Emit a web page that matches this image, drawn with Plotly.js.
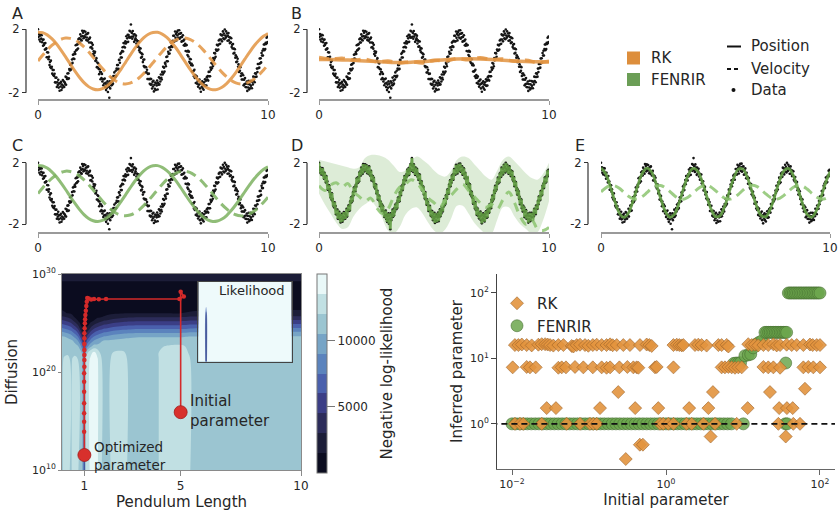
<!DOCTYPE html>
<html>
<head>
<meta charset="utf-8">
<script src="https://cdn.plot.ly/plotly-3.0.1.min.js"></script>
<style>
html,body{margin:0;padding:0;background:#ffffff;}
#chart{width:838px;height:511px;}
</style>
</head>
<body>
<div id="chart"></div>
<script>
// ================= DATA =================
// Observed pendulum position, one sample every 0.02 s, t = 0 ... 10
const observedPosition = [
2.00,1.52,1.70,1.35,1.60,1.23,1.65,1.41,1.63,1.18,1.34,0.96,1.35,1.01,1.12,0.72,1.13,0.74,0.80,0.24,
0.55,0.24,0.54,0.11,0.27,-0.26,-0.07,-0.39,0.02,-0.46,-0.36,-0.80,-0.57,-0.89,-0.57,-0.95,-0.81,-1.35,-1.06,-1.36,
-1.05,-1.64,-1.34,-1.51,-1.19,-1.68,-1.42,-1.88,-1.40,-1.61,-1.32,-1.83,-1.49,-1.69,-1.20,-1.57,-1.28,-1.64,-1.35,-1.44,
-0.99,-1.50,-1.03,-1.14,-0.79,-1.13,-0.77,-1.10,-0.51,-0.60,-0.24,-0.57,-0.20,-0.47,0.09,-0.12,0.39,0.15,0.43,0.13,
0.56,0.44,0.99,0.67,1.03,0.72,1.05,0.79,1.38,1.17,1.44,1.17,1.68,1.35,1.55,1.29,1.91,1.58,1.78,1.44,
1.89,1.56,
1.50,1.85,1.67,1.32,1.48,1.71,1.28,1.76,1.37,1.17,1.42,1.48,0.85,1.17,0.88,1.13,0.78,1.02,0.44,0.61,
0.33,0.50,0.58,0.00,0.05,0.18,-0.39,-0.10,-0.41,-0.16,-0.50,-0.83,-0.52,-0.68,-1.15,-0.72,-1.08,-0.82,-1.30,-1.15,
-1.53,-1.15,-1.42,-1.11,-1.65,-1.38,-1.84,-1.49,-1.69,-1.29,-1.96,-1.43,-1.62,-2.32,-1.29,-1.73,-1.37,-1.54,-1.05,-1.51,
-1.24,-1.43,-0.95,-1.17,-0.72,-0.95,-1.02,-0.62,-0.94,-0.48,-0.26,-0.54,-0.25,-0.50,0.07,0.06,-0.11,0.45,0.22,0.53,
0.22,0.63,0.87,0.60,1.14,0.90,1.12,0.85,1.24,1.10,1.56,1.18,1.43,1.65,1.21,1.64,1.51,1.91,1.47,1.86,
2.30,1.53,
1.77,1.40,1.89,1.54,1.67,1.21,1.68,1.32,1.44,1.60,1.10,1.30,0.90,1.24,0.92,1.23,0.67,0.81,0.55,0.79,
0.20,0.49,0.26,0.43,-0.07,0.08,-0.32,0.09,-0.39,-0.36,-0.73,-0.40,-0.72,-0.55,-1.14,-0.82,-1.14,-0.80,-1.15,-1.44,
-1.13,-1.50,-1.14,-1.48,-1.74,-1.32,-1.61,-1.25,-1.92,-1.50,-1.75,-1.36,-1.83,-1.42,-1.55,-1.24,-1.80,-1.38,-1.50,-1.03,
-1.48,-1.11,-1.30,-0.85,-1.06,-1.17,-0.69,-0.85,-0.36,-0.76,-0.42,-0.67,-0.12,-0.19,-0.33,0.25,-0.02,0.28,-0.02,0.58,
0.45,0.85,0.47,0.87,0.70,1.16,0.95,1.23,0.89,1.27,1.59,1.23,1.59,1.24,1.86,1.46,1.70,1.30,1.82,1.61,
1.93,1.47,
1.70,1.94,1.41,1.73,1.49,1.76,1.22,1.52,1.26,1.63,1.27,0.99,1.35,0.97,1.09,0.63,0.99,1.01,0.60,0.38,
0.65,0.28,0.59,-0.05,0.14,-0.14,0.11,-0.26,-0.17,-0.66,-0.28,-0.66,-0.63,-0.97,-0.55,-1.07,-0.89,-1.39,-1.06,-0.97,
-1.44,-1.29,-1.62,-1.25,-1.49,-1.17,-1.73,-1.43,-1.94,-1.38,-1.63,-1.29,-1.73,-1.48,-1.82,-1.35,-1.54,-1.15,-1.57,-1.25,
-1.55,-1.02,-1.17,-0.95,-1.24,-0.69,-0.96,-0.68,-0.96,-0.41,-0.56,-0.13,-0.46,-0.17,-0.34,0.19,0.04,0.50,0.16,0.48,
0.26,0.73,0.65,1.03,0.66,0.98,0.73,1.29,1.06,1.36,1.09,1.68,1.36,1.62,1.24,1.62,1.87,1.43,1.73,1.37,
1.99,1.61,
1.46,1.87,1.54,1.74,1.28,1.59,1.76,1.30,1.50,1.13,1.48,1.18,1.44,0.89,1.03,0.79,1.07,0.47,0.78,0.51,
0.74,0.21,0.36,-0.07,0.25,-0.03,0.14,-0.36,-0.21,-0.70,-0.35,-0.62,-0.39,-0.95,-0.79,-1.17,-0.80,-1.17,-0.90,-1.54,
-1.18,-1.46,-1.08,-1.64,-1.43,-1.66,-1.30,-1.89,-1.45,-1.67,-1.25,-1.80,-1.48,-1.72,-1.26,-1.57,-1.30,-1.72,-1.31,-1.48,
-0.99,-1.26,-1.01,-1.34,-0.78,-1.01,-0.80,-0.99,-0.48,-0.70,-0.19,-0.46,-0.19,-0.42,0.16,-0.15,0.17,-0.09,0.50,0.35,
0.65,0.35,0.76,1.04,0.68,1.05,0.75,1.15,1.07,1.47,1.16,1.54,1.20
];
const sampleStep = 0.02;

// Panel A: RK with initial parameter (every 0.2 s)
const rkPositionA = [1.82,1.79,1.65,1.41,1.09,0.69,0.26,-0.19,-0.63,-1.03,-1.37,-1.62,-1.77,-1.82,-1.75,-1.58,-1.31,-0.96,-0.54,-0.10,0.35,0.78,1.16,1.47,1.69,1.80,1.81,1.70,1.49,1.19,0.82,0.39,-0.06,-0.50,-0.90,-1.26,-1.54,-1.73,-1.82,-1.79,-1.66,-1.43,-1.11,-0.73,-0.31,0.13,0.56,0.96,1.29,1.56,1.74];
const rkVelocityA = [0.00,0.36,0.69,0.98,1.21,1.37,1.45,1.43,1.33,1.14,0.89,0.58,0.23,-0.13,-0.48,-0.80,-1.07,-1.28,-1.41,-1.45,-1.40,-1.27,-1.06,-0.78,-0.46,-0.11,0.25,0.59,0.90,1.15,1.33,1.43,1.45,1.37,1.20,0.97,0.67,0.33,-0.03,-0.39,-0.72,-1.00,-1.23,-1.38,-1.45,-1.43,-1.32,-1.14,-0.89,-0.58,-0.24];
// Panel B: RK after optimisation (every 0.5 s)
const rkPositionB = [0.10,0.09,0.07,0.04,0.00,-0.04,-0.08,-0.10,-0.08,-0.04,0.02,0.08,0.12,0.14,0.13,0.10,0.05,0.00,-0.03,-0.05,-0.06];
const rkVelocityB = [0.22,0.12,0.18,0.05,0.10,-0.05,0.00,-0.12,-0.05,-0.12,0.05,0.00,0.15,0.08,0.20,0.10,0.12,-0.02,0.05,-0.10,-0.02];
// Panel C: FENRIR with initial parameter (every 0.2 s)
const fenrirPositionC = [1.82,1.79,1.65,1.41,1.09,0.69,0.26,-0.19,-0.63,-1.03,-1.37,-1.62,-1.77,-1.82,-1.75,-1.58,-1.31,-0.96,-0.54,-0.10,0.35,0.78,1.16,1.47,1.69,1.80,1.81,1.70,1.49,1.19,0.82,0.39,-0.06,-0.50,-0.90,-1.26,-1.54,-1.73,-1.82,-1.79,-1.66,-1.43,-1.11,-0.73,-0.31,0.13,0.56,0.96,1.29,1.56,1.74];
const fenrirVelocityC = [0.00,0.36,0.69,0.98,1.21,1.37,1.45,1.43,1.33,1.14,0.89,0.58,0.23,-0.13,-0.48,-0.80,-1.07,-1.28,-1.41,-1.45,-1.40,-1.27,-1.06,-0.78,-0.46,-0.11,0.25,0.59,0.90,1.15,1.33,1.43,1.45,1.37,1.20,0.97,0.67,0.33,-0.03,-0.39,-0.72,-1.00,-1.23,-1.38,-1.45,-1.43,-1.32,-1.14,-0.89,-0.58,-0.24];
// Panel D: FENRIR posterior conditioned on data (band every 0.25 s); the mean follows the samples
const fenrirPositionD = observedPosition;
const fenrirUpperD = [2.2,2.1,2.0,1.9,1.8,1.7,1.6,1.7,2.3,2.5,2.5,2.4,2.2,1.8,1.4,1.5,2.1,2.4,2.2,1.9,1.5,1.2,1.1,1.5,2.2,2.4,2.3,1.9,1.5,1.1,0.9,1.5,2.2,2.4,2.1,1.7,1.3,1.0,0.9,1.3,2.0];
const fenrirLowerD = [0.0,-0.7,-1.3,-1.9,-2.3,-2.2,-1.5,-1.0,-0.7,-0.5,-0.9,-1.6,-2.4,-2.6,-2.2,-1.4,-1.0,-0.9,-1.3,-1.9,-2.4,-2.6,-2.3,-1.6,-0.8,-0.8,-1.3,-1.9,-2.3,-2.6,-2.6,-1.7,-0.9,-0.9,-1.5,-2.0,-2.3,-2.6,-2.5,-1.7,-0.5];
const fenrirVelocityD = [0.5,0.2,0.55,0.7,0.4,0.65,0.1,-0.2,-0.5,-0.3,-0.9,-1.3,-1.0,-0.2,0.4,0.6,0.9,0.7,0.2,-0.3,-0.6,-0.9,-0.4,-0.1,0.3,0.6,0.2,-0.2,-0.6,-0.9,-0.7,-1.0,-0.4,0.1,-0.6,-1.5,-2.0,-1.7,-2.3,-2.4,-2.2];
// Panel E: FENRIR after optimisation (every 0.2 s)
const fenrirPositionE = [1.65,1.30,0.49,-0.48,-1.26,-1.55,-1.26,-0.48,0.49,1.30,1.65,1.41,0.67,-0.29,-1.13,-1.54,-1.36,-0.66,0.30,1.16,1.62,1.50,0.85,-0.10,-0.99,-1.50,-1.44,-0.83,0.10,1.01,1.58,1.58,1.01,0.10,-0.83,-1.44,-1.50,-0.99,-0.10,0.85,1.50,1.62,1.16,0.30,-0.66,-1.36,-1.54,-1.13,-0.29,0.67,1.41];
const fenrirVelocityE = [0.11,0.36,0.51,0.50,0.34,0.08,-0.18,-0.34,-0.35,-0.20,0.05,0.32,0.49,0.52,0.38,0.14,-0.13,-0.32,-0.37,-0.24,0.00,0.27,0.47,0.53,0.42,0.19,-0.08,-0.30,-0.37,-0.28,-0.06,0.22,0.44,0.53,0.46,0.24,-0.03,-0.26,-0.37,-0.31,-0.11,0.16,0.40,0.53,0.48,0.29,0.03,-0.22,-0.36,-0.33,-0.16];

// Negative log-likelihood landscape: pendulum length (columns) x log10 diffusion (rows)
const gridLength = [0.07,0.15,0.3,0.45,0.5,0.6,0.72,0.8,0.88,0.94,1.0,1.06,1.12,1.25,1.4,1.55,1.65,1.8,2.0,2.2,2.6,2.9,3.4,4.0,4.4,5.0,5.5,6.5,8,10];
const gridLogDiffusion = [10,21.3,22.0,22.6,23.2,23.6,24.0,24.4,24.8,25.2,25.6,26.0,27.0,28.5,29.4,30];
const negLogLik = [
[11300,12700,12800,11500,12600,12900,12500,11200,11000,10000,5000,12800,12900,13700,14200,13600,12600,11300,11400,12700,12800,11400,11300,11800,12700,12800,11800,11300,11200,11200],
[11300,12350,12800,11500,12110,12700,12050,11200,11000,10000,5000,12800,12900,13700,14200,13600,12600,11300,11400,12700,12800,11400,11300,11800,12700,12800,11800,11300,11200,11200],
[11300,11300,11490,11400,11300,11300,11300,11075,10625,9050,5000,10230,11760,13044,13840,13025,11950,11300,11350,12050,12240,11400,11300,11800,12700,12800,11500,11300,11200,11200],
[11300,11300,11300,11300,11225,11075,10775,10125,8625,6750,4875,7125,8625,10125,11200,11000,11075,11165,11225,11300,11300,11300,11300,11490,12175,12425,11300,11300,11250,11250],
[11075,11040,10940,10750,10625,10125,9075,7875,6375,4450,2625,4875,6375,7875,9075,9750,10125,10525,10625,10750,10875,10940,10975,10975,10975,10975,11040,11040,11075,11075],
[10625,10560,10310,9750,9375,8625,7575,6375,4875,2950,1420,3375,4875,6375,7575,8250,8625,9075,9375,9750,10125,10310,10425,10425,10425,10425,10560,10560,10625,10625],
[9375,9190,8810,8250,7875,7125,6075,4875,3375,1450,1100,1875,3375,4875,6075,6750,7125,7575,7875,8250,8625,8810,8925,8925,8925,8925,9190,9190,9375,9375],
[7875,7690,7310,6750,6375,5625,4575,3375,1875,1180,780,1260,1875,3375,4575,5250,5625,6075,6375,6750,7125,7310,7425,7425,7425,7425,7690,7690,7875,7875],
[6375,6190,5810,5250,4875,4125,3075,1875,1260,860,700,940,1260,1875,3075,3750,4125,4575,4875,5250,5625,5810,5925,5925,5925,5925,6190,6190,6375,6375],
[4875,4690,4310,3750,3375,2625,1575,1260,940,700,700,700,940,1260,1575,2250,2625,3075,3375,3750,4125,4310,4425,4425,4425,4425,4690,4690,4875,4875],
[3375,3190,2810,2250,1875,1420,1195,940,700,700,700,700,700,940,1195,1340,1420,1575,1875,2250,2625,2810,2925,2925,2925,2925,3190,3190,3375,3375],
[1875,1690,1460,1340,1260,1100,875,700,700,700,700,700,700,700,875,1020,1100,1195,1260,1340,1420,1460,1485,1485,1485,1485,1690,1690,1875,1875],
[750,750,750,750,750,750,750,750,750,750,750,750,750,750,750,750,750,750,750,750,750,750,750,750,750,750,750,750,750,750],
[900,900,900,900,900,900,900,900,900,900,900,900,900,900,900,900,900,900,900,900,900,900,900,900,900,900,900,900,900,900],
[1600,1600,1600,1600,1600,1600,1600,1600,1600,1600,1600,1600,1600,1600,1600,1600,1600,1600,1600,1600,1600,1600,1600,1600,1600,1600,1600,1600,1600,1600],
[2000,2000,2000,2000,2000,2000,2000,2000,2000,2000,2000,2000,2000,2000,2000,2000,2000,2000,2000,2000,2000,2000,2000,2000,2000,2000,2000,2000,2000,2000]
];
// Optimisation path (pendulum length, log10 diffusion), from initial to optimised parameter
const pathLength = [5.0,5.0,5.13,4.95,1.9,1.6,1.4,1.28,1.18,1.12,1.1,1.08,1.06,1.04,1.03,1.02,1.01,1.0,1.0,1.0,1.0,1.0,1.0,1.0,0.99,0.99,0.99,0.99,0.99,0.99,0.99,1.0];
const pathLogDiffusion = [15.9,28.2,27.7,27.45,27.45,27.42,27.45,27.4,27.5,27.55,27.17,26.73,26.26,25.82,25.37,24.97,24.46,23.95,23.44,22.86,22.24,21.73,21.22,20.54,19.86,19.01,17.99,16.8,15.78,14.93,13.91,11.53];
// Inset: likelihood on a coarse grid
const likeLength = [0.07,0.8,0.9,1.0,10];
const likeLogDiffusion = [10,22,23.8,30];
const likelihood = [[0,0,1,0,0],[0,0,0.8,0,0],[0,0,0,0,0],[0,0,0,0,0]];

// Inferred vs initial parameter
const rkInitial = [
0.0109,0.0121,0.0134,0.0155,0.0180,0.0220,0.0243,0.0269,0.0290,0.0312,0.0344,0.0400,0.0465,0.0596,0.0627,0.0692,0.0764,0.0887,0.0980,0.112,0.126,0.146,0.169,0.188,0.203,0.229,0.279,0.340,0.459,0.561,0.608,0.652,1.25,1.38,1.49,1.60,1.68,2.38,2.63,2.90,3.37,4.79,5.28,6.14,6.46,11.7,13.0,14.3,15.8,18.4,21.3,24.8,27.4,30.3,36.9,42.9,49.8,60.8,74.1,80.4,90.6,100,
0.0102,0.0155,0.0171,0.0203,0.0400,0.0442,0.0502,0.0658,0.0844,0.112,0.146,0.169,0.188,0.248,0.315,0.377,0.416,0.438,0.720,0.757,1.25,5.28,5.83,6.46,7.13,7.87,8.69,9.62,18.4,21.3,24.8,30.3,60.8,70.5,81.9,100,
0.0109,0.0127,0.0140,0.0243,0.0513,0.0764,0.103,0.114,0.126,0.836,0.923,1.07,1.25,1.85,2.15,3.06,4.33,8.28,28.8,45.0,55.0,
0.0282,0.0372,0.139,0.240,0.300,0.457,0.501,0.398,0.794,2.0,3.55,4.07,3.80,11.5,22.4,29.5,35.9,37.2,44.2,63.8
];
const rkInferred = [
16,16,16.3,16,15.8,16.2,16.5,16.5,16.3,16,15.7,16,16,15.5,15.2,16,16.2,16,15.6,16,16.2,16,16,16.4,15.9,16,16,16,16,16.3,16,15.5,16,16.2,16,15.8,16,16,16.2,16,15.7,16,16,16.1,15.2,16.5,16,16.2,15.8,16,16,16.4,15.8,16,16.2,16,16,16,16.3,16,16,16,
7.3,7.4,7.3,7.3,7.2,7.3,7.3,7.4,7.3,7.3,7.3,7.2,7.3,7.3,7.4,7.3,7.3,7.2,7.3,7.4,7.3,7.3,7.3,7.4,7.3,7.2,7.3,7.3,7.4,7.3,7.3,7.2,7.3,7.4,7.3,7.3,
1,1,1,1,1,1,1,1,1,1,1,1,1,1,1,1,1,1,1,1,1,
1.74,1.74,1.74,3.06,0.29,0.48,0.48,1.74,1.74,1.74,1.74,3.06,0.64,1.74,3.06,1.74,0.64,1.74,1.74,3.44
];
const fenrirInitial = [
0.0100,0.0112,0.0126,0.0141,0.0158,0.0178,0.0200,0.0224,0.0251,0.0282,0.0316,0.0355,0.0398,0.0447,0.0501,0.0562,0.0631,0.0708,0.0794,0.0891,
0.100,0.112,0.126,0.141,0.158,0.178,0.200,0.224,0.251,0.282,0.316,0.355,0.398,0.447,0.501,0.562,0.631,0.708,0.794,0.891,
1.00,1.12,1.26,1.41,1.58,1.78,2.00,2.24,2.51,2.82,3.16,3.55,3.98,4.47,5.01,5.62,6.31,7.08,10.1,35.5,37.5,
7.6,8.1,8.7,9.3,10.6,11.7,12.6,13.6,14.8,16.0,17.5,19.3,20.3,21.5,22.6,23.8,25.0,26.3,27.6,29.0,30.5,32.0,33.6,35.2,36.9,35.9,
38.8,40.8,42.9,45.1,47.4,49.8,52.4,55.0,57.9,60.8,64.0,67.3,70.5,74.1,78.0,82.0,86.0,90.6,95.0,100
];
const fenrirInferred = [
1,1,1,1,1,1,1,1,1,1,1,1,1,1,1,1,1,1,1,1,
1,1,1,1,1,1,1,1,1,1,1,1,1,1,1,1,1,1,1,1,
1,1,1,1,1,1,1,1,1,1,1,1,1,1,1,1,1,1,1,1,1,
8.4,8.5,8.5,8.6,11.0,11.3,11.6,14.5,16.5,17.5,18.5,25,25,25,25,25,25,25,25,25,25,25,25,25,25,8.5,
100,100,100,100,100,100,100,100,100,100,100,100,100,100,100,100,100,100,100,100
];
const trueLength = 1;

// ================= STYLE / LAYOUT =================
const W = 838, H = 511;
const fx = v => v / W;
const fy = v => 1 - v / H;
const FONT = 'DejaVu Sans, Arial, sans-serif';
const ORANGE = 'rgba(226,148,66,0.85)';
const GREEN = 'rgba(124,178,96,0.85)';
const GREEN_DARK = 'rgba(96,156,66,0.9)';
const GREEN_LIGHT = 'rgba(140,196,112,0.85)';
const iceColors = ['#0b0c1f','#1c1d38','#2c2c5a','#3b3e86','#4a60ad','#5b83bd','#76a4c6','#9bc5d1','#c1e0e3','#e9f8f8'];
const iceScale = [[0, iceColors[0]]].concat(iceColors.map((c, i) => [(i + 0.5) / 10, c])).concat([[1, iceColors[9]]]);

function dots(xa, ya) {
  return {type:'scatter', mode:'markers', x0:0, dx:sampleStep, y:observedPosition, xaxis:xa, yaxis:ya,
    marker:{color:'#151515', size:2.6, line:{width:0}}, showlegend:false, hoverinfo:'skip'};
}
function curve(y, dx, xa, ya, color, width, dash, shape) {
  return {type:'scatter', mode:'lines', x0:0, dx:dx, y:y, xaxis:xa, yaxis:ya,
    line:{color:color, width:width, dash:dash || 'solid', shape:shape || 'spline', smoothing:1}, showlegend:false, hoverinfo:'skip'};
}

const traces = [];
// A
traces.push(dots('x','y'));
traces.push(curve(rkPositionA, 0.2, 'x', 'y', ORANGE, 3));
traces.push(curve(rkVelocityA, 0.2, 'x', 'y', ORANGE, 3, '10px,6px'));
// B
traces.push(dots('x2','y2'));
traces.push(curve(rkPositionB, 0.5, 'x2', 'y2', ORANGE, 3.5));
traces.push(curve(rkVelocityB, 0.5, 'x2', 'y2', ORANGE, 3.5, '10px,6px'));
// C
traces.push(dots('x3','y3'));
traces.push(curve(fenrirPositionC, 0.2, 'x3', 'y3', GREEN, 3));
traces.push(curve(fenrirVelocityC, 0.2, 'x3', 'y3', GREEN, 3, '10px,6px'));
// D
traces.push({type:'scatter', mode:'lines', x0:0, dx:0.25, y:fenrirLowerD, xaxis:'x4', yaxis:'y4',
  line:{width:0, shape:'spline'}, showlegend:false, hoverinfo:'skip'});
traces.push({type:'scatter', mode:'lines', x0:0, dx:0.25, y:fenrirUpperD, xaxis:'x4', yaxis:'y4',
  line:{width:0, shape:'spline'}, fill:'tonexty', fillcolor:'rgba(120,180,95,0.25)', showlegend:false, hoverinfo:'skip'});
traces.push(dots('x4','y4'));
traces.push(curve(fenrirPositionD, sampleStep, 'x4', 'y4', GREEN_DARK, 2.8, 'solid', 'linear'));
traces.push(curve(fenrirVelocityD, 0.25, 'x4', 'y4', GREEN_LIGHT, 3, '9px,7px'));
// E
traces.push(dots('x5','y5'));
traces.push(curve(fenrirPositionE, 0.2, 'x5', 'y5', GREEN_DARK, 2.8));
traces.push(curve(fenrirVelocityE, 0.2, 'x5', 'y5', GREEN_LIGHT, 3, '10px,6px'));

// Contour of negative log-likelihood
traces.push({type:'contour', x:gridLength, y:gridLogDiffusion, z:negLogLik, xaxis:'x6', yaxis:'y6',
  autocontour:false, zmin:0, zmax:15000,
  contours:{start:0, end:15000, size:1500, coloring:'fill', showlines:false},
  line:{width:0, smoothing:1}, colorscale:iceScale, showscale:true, hoverinfo:'skip',
  colorbar:{x:fx(317), xanchor:'left', xpad:0, ypad:0, y:fy(274), yanchor:'top', len:199, lenmode:'pixels',
    thickness:10, thicknessmode:'pixels', outlinewidth:1, outlinecolor:'#777', ticks:'outside', ticklen:8,
    tickcolor:'#777', tickvals:[5000,10000], ticktext:['5000','10000'], tickfont:{size:12, family:FONT, color:'#262626'},
    title:{text:'Negative log-likelihood', side:'right', font:{size:15, family:FONT, color:'#262626'}}}
});
// optimisation path
traces.push({type:'scatter', mode:'lines+markers', x:pathLength, y:pathLogDiffusion, xaxis:'x6', yaxis:'y6',
  line:{color:'#d42a2a', width:1.6}, marker:{color:'#d42a2a', size:4.5}, showlegend:false, hoverinfo:'skip'});
traces.push({type:'scatter', mode:'markers', x:[pathLength[0], pathLength[pathLength.length-1]],
  y:[pathLogDiffusion[0], pathLogDiffusion[pathLogDiffusion.length-1]], xaxis:'x6', yaxis:'y6',
  marker:{color:'#d8302c', size:13, line:{color:'#a31c1c', width:0.8}}, showlegend:false, hoverinfo:'skip'});
// inset likelihood
traces.push({type:'contour', x:likeLength, y:likeLogDiffusion, z:likelihood, xaxis:'x7', yaxis:'y7',
  autocontour:false, contours:{start:0.05, end:0.55, size:0.5, coloring:'fill', showlines:false},
  line:{width:0, smoothing:1}, showscale:false, hoverinfo:'skip',
  colorscale:[[0,'#eefafb'],[0.25,'#eefafb'],[0.5,'#7d97cc'],[0.75,'#7d97cc'],[1,'#27347c']]});

// Scatter panel (FENRIR drawn first so RK diamonds sit on top; legend reversed so RK is listed first)
traces.push({type:'scatter', mode:'markers', name:'FENRIR', x:fenrirInitial, y:fenrirInferred, xaxis:'x8', yaxis:'y8',
  marker:{symbol:'circle', size:12, color:'rgba(108,166,78,0.85)', line:{color:'rgba(66,106,44,0.7)', width:0.8}}, hoverinfo:'skip'});
traces.push({type:'scatter', mode:'markers', name:'RK', x:rkInitial, y:rkInferred, xaxis:'x8', yaxis:'y8',
  marker:{symbol:'diamond', size:10, color:'rgba(226,148,62,0.9)', line:{color:'rgba(150,95,40,0.7)', width:0.8}}, hoverinfo:'skip'});
traces.push({type:'scatter', mode:'lines', x:[0.004, 300], y:[trueLength, trueLength], xaxis:'x8', yaxis:'y8',
  line:{color:'#111', width:1.6, dash:'6px,4px'}, showlegend:false, hoverinfo:'skip'});

// ---- axes ----
function topX(l, r, anchor) {
  return {domain:[fx(l), fx(r)], range:[0,10], anchor:anchor, showline:true, linecolor:'#9a9a9a', linewidth:1.2,
    ticks:'outside', ticklen:4, tickcolor:'#9a9a9a', tickvals:[0,10], ticktext:['0','10'],
    tickfont:{size:12}, showgrid:false, zeroline:false};
}
function topY(top, bottom, pos, range) {
  return {domain:[fy(bottom), fy(top)], range:range, anchor:'free', position:fx(pos), showline:false,
    ticks:'outside', ticklen:4, tickcolor:'#333', tickwidth:1.2, tickvals:[-2,2], ticktext:['-2','2'],
    tickfont:{size:11.5}, showgrid:false, zeroline:false};
}
const rangeTop = [-2.42, 2.45];
const rangeMid = [-2.52, 2.65];

const layout = {
  width:W, height:H, margin:{l:0, r:0, t:0, b:0}, paper_bgcolor:'#ffffff', plot_bgcolor:'rgba(0,0,0,0)',
  font:{family:FONT, size:12, color:'#262626'}, hovermode:false,
  xaxis:topX(38, 268, 'y'), yaxis:topY(22.2, 99.3, 26, rangeTop),
  xaxis2:topX(319, 549, 'y2'), yaxis2:topY(22.2, 99.3, 307, rangeTop),
  xaxis3:topX(38, 268, 'y3'), yaxis3:topY(152.7, 232.3, 26, rangeMid),
  xaxis4:topX(319, 549, 'y4'), yaxis4:topY(152.7, 232.3, 307, rangeMid),
  xaxis5:topX(601, 830, 'y5'), yaxis5:topY(152.7, 232.3, 588, rangeMid),
  xaxis6:{domain:[fx(62), fx(301)], range:[0.07,10], anchor:'y6', showline:true, mirror:true, linecolor:'#8a8a8a',
    ticks:'outside', ticklen:5, tickcolor:'#8a8a8a', tickvals:[1,5,10], ticktext:['1','5','10'], tickfont:{size:12},
    showgrid:false, zeroline:false, title:{text:'Pendulum Length', font:{size:15}, standoff:4}},
  yaxis6:{domain:[fy(470), fy(274)], range:[10,30], anchor:'x6', showline:true, mirror:true, linecolor:'#8a8a8a',
    ticks:'outside', ticklen:3, tickcolor:'#8a8a8a', tickvals:[10,20,30],
    ticktext:['10<sup>10</sup>','10<sup>20</sup>','10<sup>30</sup>'], tickfont:{size:11},
    showgrid:false, zeroline:false, title:{text:'Diffusion', font:{size:15}, standoff:10}},
  xaxis7:{domain:[fx(198.3), fx(291.7)], range:[0.07,10], anchor:'y7', showline:true, mirror:true, linecolor:'#444',
    ticks:'', showticklabels:false, showgrid:false, zeroline:false},
  yaxis7:{domain:[fy(361.7), fy(281.7)], range:[10,30], anchor:'x7', showline:true, mirror:true, linecolor:'#444',
    ticks:'', showticklabels:false, showgrid:false, zeroline:false},
  xaxis8:{domain:[fx(497), fx(835)], type:'log', range:[-2.195, 2.195], anchor:'y8', showline:true, linecolor:'#666',
    ticks:'outside', ticklen:5, tickcolor:'#666', tickvals:[0.01,1,100],
    ticktext:['10<sup>\u22122</sup>','10<sup>0</sup>','10<sup>2</sup>'], tickfont:{size:11},
    showgrid:false, zeroline:false, title:{text:'Initial parameter', font:{size:15}, standoff:4}},
  yaxis8:{domain:[fy(469), fy(274)], type:'log', range:[-0.69, 2.29], anchor:'x8', showline:true, linecolor:'#444',
    ticks:'outside', ticklen:5, tickcolor:'#444', tickvals:[1,10,100],
    ticktext:['10<sup>0</sup>','10<sup>1</sup>','10<sup>2</sup>'], tickfont:{size:11},
    showgrid:false, zeroline:false, title:{text:'Inferred parameter', font:{size:15}, standoff:3}},
  showlegend:true,
  legend:{x:fx(497), y:fy(287), xanchor:'left', yanchor:'top', bgcolor:'rgba(0,0,0,0)', font:{size:15},
    tracegroupgap:0, traceorder:'reversed'},
  shapes:[],
  annotations:[]
};

// trimmed y spines for panels A-E
[['y',26],['y2',307],['y3',26],['y4',307],['y5',588]].forEach(([ya, pos]) => {
  layout.shapes.push({type:'line', xref:'paper', yref:ya, x0:fx(pos), x1:fx(pos), y0:-2, y1:2, line:{color:'#333', width:1.2}});
});
// top-right legend (method colours and line styles)
layout.shapes.push({type:'rect', xref:'paper', yref:'paper', x0:fx(627), x1:fx(640), y0:fy(64.5), y1:fy(51.5), fillcolor:'#dd8e3c', line:{width:0}});
layout.shapes.push({type:'rect', xref:'paper', yref:'paper', x0:fx(627), x1:fx(640), y0:fy(86), y1:fy(73), fillcolor:'#6b9e56', line:{width:0}});
layout.shapes.push({type:'line', xref:'paper', yref:'paper', x0:fx(727), x1:fx(741), y0:fy(46.5), y1:fy(46.5), line:{color:'#111', width:2}});
layout.shapes.push({type:'line', xref:'paper', yref:'paper', x0:fx(727), x1:fx(741), y0:fy(69), y1:fy(69), line:{color:'#111', width:2, dash:'4px,3px'}});
layout.shapes.push({type:'circle', xref:'paper', yref:'paper', x0:fx(731.5), x1:fx(735.5), y0:fy(92), y1:fy(88), fillcolor:'#111', line:{width:0}});

function txt(text, x, y, size, xanchor, extra) {
  return Object.assign({text:text, xref:'paper', yref:'paper', x:fx(x), y:fy(y), showarrow:false,
    xanchor:xanchor || 'center', yanchor:'middle', font:{size:size, family:FONT, color:'#262626'}}, extra || {});
}
layout.annotations.push(
  txt('A', 17, 13.5, 16), txt('B', 296.5, 13.5, 16), txt('C', 17, 145.5, 16), txt('D', 297, 145.5, 16), txt('E', 580, 145.5, 16),
  txt('RK', 649, 58, 15, 'left'), txt('FENRIR', 649, 79.5, 15, 'left'),
  txt('Position', 749, 46.5, 15, 'left'), txt('Velocity', 749, 69, 15, 'left'), txt('Data', 749, 90, 15, 'left'),
  txt('Initial<br>parameter', 188, 411, 15, 'left', {align:'left'}),
  txt('Optimized<br>parameter', 92, 456, 13.5, 'left', {align:'left'}),
  txt('Likelihood', 287, 290, 13, 'right')
);

Plotly.newPlot('chart', traces, layout, {staticPlot:true, displayModeBar:false});
</script>
</body>
</html>
